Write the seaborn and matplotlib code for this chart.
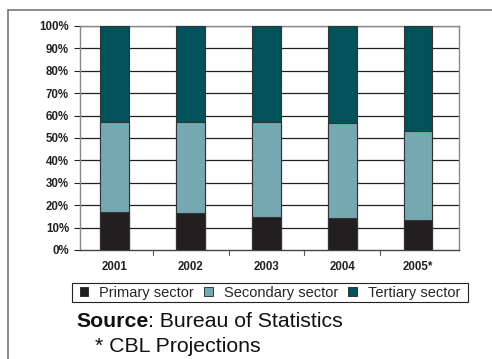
import matplotlib
matplotlib.use("Agg")
import matplotlib.pyplot as plt
import seaborn as sns
import pandas as pd
from matplotlib.patches import Patch, Rectangle
from matplotlib.lines import Line2D

years = ["2001", "2002", "2003", "2004", "2005*"]
primary = [17.1, 16.4, 14.6, 14.1, 13.4]
secondary = [39.9, 40.6, 42.4, 42.7, 39.7]
tertiary = [43.0, 43.0, 43.0, 43.2, 46.9]
series_names = ["Primary sector", "Secondary sector", "Tertiary sector"]
colors = ["#231f20", "#76a8b1", "#02525b"]
yticks = [0, 10, 20, 30, 40, 50, 60, 70, 80, 90, 100]

sns.set_style("white")
plt.rcParams['font.family'] = ['Liberation Sans', 'DejaVu Sans']

cum1 = primary
cum2 = [p + s for p, s in zip(primary, secondary)]
cum3 = [a + t for a, t in zip(cum2, tertiary)]
df = pd.DataFrame({"year": years, "c1": cum1, "c2": cum2, "c3": cum3})

fig = plt.figure(figsize=(4.92, 3.59), dpi=100)
ax = fig.add_axes([80/492, 1-250/359, 379/492, 224/359])

for col, c in zip(["c3", "c2", "c1"], colors[::-1]):
    sns.barplot(data=df, x="year", y=col, color=c, width=0.38, ax=ax,
                edgecolor="#333333", linewidth=0.8, saturation=1, zorder=3)

ax.set_ylim(0, 100)
ax.set_xlim(-0.46, 4.54)
ax.set_yticks(yticks)
ax.set_yticklabels([f"{v}%" for v in yticks], fontsize=8.3, fontweight='bold', color="#222222")
ax.set_xticks(range(len(years)))
ax.set_xticklabels(years, fontsize=8.3, fontweight='bold', color="#222222")
ax.tick_params(axis='x', length=0, pad=8)
ax.tick_params(axis='y', length=4, width=0.8, color="#222222", pad=4, left=True)
for b in [0.5, 1.5, 2.5, 3.5]:
    ax.plot([b, b], [0, -2.2], color="#555555", lw=0.8, clip_on=False)
ax.set_xlabel("")
ax.set_ylabel("")
for y in yticks[1:]:
    ax.axhline(y, color="#222222", lw=0.9, zorder=1)
for s in ["left", "right", "bottom", "top"]:
    ax.spines[s].set_visible(True)
    ax.spines[s].set_color("#888888")
    ax.spines[s].set_linewidth(1.0)
ax.spines["bottom"].set_color("#444444")

handles = [Patch(facecolor=c, edgecolor="#222222", linewidth=0.6) for c in colors]
leg = fig.legend(handles, series_names, ncol=3, loc="center",
                 bbox_to_anchor=(270/492, 1-292.5/359), fontsize=10.5,
                 frameon=False,
                 handlelength=0.6, handleheight=0.6, handletextpad=0.75,
                 columnspacing=0.7, borderpad=0.0, borderaxespad=0)
fig.add_artist(Rectangle((72/492, 1-302/359), 396/492, 19/359, transform=fig.transFigure,
                         fill=False, edgecolor="#222222", lw=0.8))

# outer frame
fig.add_artist(Line2D([8/492, 1], [1-9.5/359, 1-9.5/359], color="#777777", lw=1.2))
fig.add_artist(Line2D([8/492, 8/492], [0, 1-9.5/359], color="#777777", lw=1.2))

t1 = fig.text(76/492, 32/359, "Source", fontsize=15.3, fontweight='bold', va='baseline', color="#111111")
fig.canvas.draw()
r = fig.canvas.get_renderer()
bb = t1.get_window_extent(r)
fig.text(bb.x1/fig.bbox.width, 32/359, ": Bureau of Statistics", fontsize=15.3, va='baseline', color="#111111")
fig.text(95/492, 6.5/359, "* CBL Projections", fontsize=15.3, va='baseline', color="#111111")

fig.savefig("out.png", dpi=100)
